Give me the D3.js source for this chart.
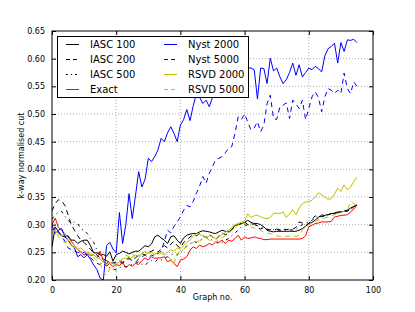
<!DOCTYPE html>
<html>
<head>
<meta charset="utf-8">
<script src="https://cdn.jsdelivr.net/npm/d3@7"></script>
<style>
  body { margin: 0; background: #fff; }
  text { font-family: "DejaVu Sans", sans-serif; }
</style>
</head>
<body>
<div id="chart"></div>
<script>
// graph numbers on the x axis
const graphNo = d3.range(0, 96);

const xTicks = [0, 20, 40, 60, 80, 100];
const yTicks = [0.20, 0.25, 0.30, 0.35, 0.40, 0.45, 0.50, 0.55, 0.60, 0.65];

// values
const iasc100 = [0.260,0.296,0.288,0.280,0.278,0.280,0.272,0.272,0.266,0.270,
  0.272,0.272,0.262,0.249,0.249,0.245,0.246,0.243,0.251,0.234,
  0.246,0.248,0.252,0.250,0.247,0.250,0.252,0.252,0.257,0.262,
  0.260,0.265,0.278,0.281,0.276,0.272,0.266,0.278,0.280,0.272,
  0.266,0.276,0.281,0.283,0.284,0.284,0.287,0.289,0.288,0.287,
  0.285,0.284,0.287,0.290,0.288,0.287,0.290,0.299,0.300,0.302,
  0.304,0.308,0.304,0.302,0.302,0.300,0.296,0.290,0.288,0.287,
  0.288,0.288,0.288,0.288,0.288,0.288,0.288,0.290,0.293,0.297,
  0.302,0.304,0.308,0.314,0.315,0.317,0.318,0.320,0.321,0.323,
  0.323,0.324,0.326,0.330,0.333,0.335];

const iasc200 = [0.325,0.338,0.345,0.343,0.335,0.318,0.300,0.290,0.280,0.272,
  0.268,0.262,0.255,0.250,0.245,0.240,0.238,0.235,0.232,0.230,
  0.233,0.235,0.232,0.238,0.240,0.236,0.240,0.245,0.248,0.245,
  0.250,0.252,0.255,0.250,0.256,0.262,0.258,0.265,0.270,0.262,
  0.258,0.268,0.272,0.278,0.282,0.280,0.284,0.280,0.276,0.282,
  0.278,0.272,0.280,0.285,0.282,0.284,0.292,0.296,0.300,0.302,
  0.305,0.300,0.298,0.302,0.295,0.292,0.295,0.290,0.291,0.290,
  0.292,0.291,0.292,0.291,0.292,0.292,0.295,0.305,0.303,0.300,
  0.302,0.310,0.316,0.312,0.318,0.316,0.318,0.320,0.322,0.321,
  0.324,0.325,0.324,0.328,0.332,0.337];

const iasc500 = [0.310,0.318,0.322,0.324,0.315,0.308,0.302,0.305,0.302,0.292,
  0.290,0.284,0.275,0.268,0.254,0.245,0.235,0.224,0.222,0.220,
  0.218,0.222,0.225,0.224,0.226,0.228,0.230,0.233,0.228,0.226,
  0.233,0.235,0.232,0.238,0.236,0.240,0.242,0.245,0.248,0.245,
  0.250,0.255,0.262,0.265,0.270,0.268,0.272,0.275,0.278,0.274,
  0.272,0.270,0.265,0.268,0.272,0.275,0.280,0.285,0.290,0.296,
  0.300,0.298,0.302,0.300,0.298,0.296,0.292,0.292,0.290,0.291,
  0.290,0.290,0.291,0.290,0.291,0.290,0.292,0.296,0.300,0.303,
  0.305,0.308,0.312,0.310,0.314,0.316,0.318,0.319,0.320,0.322,
  0.323,0.325,0.326,0.328,0.331,0.336];

const exact = [0.300,0.312,0.295,0.290,0.282,0.278,0.270,0.262,0.255,0.250,
  0.245,0.248,0.244,0.246,0.240,0.252,0.235,0.225,0.230,0.224,
  0.228,0.226,0.232,0.222,0.228,0.225,0.230,0.228,0.235,0.240,
  0.236,0.242,0.239,0.240,0.240,0.242,0.233,0.236,0.230,0.224,
  0.236,0.238,0.242,0.254,0.260,0.257,0.263,0.260,0.262,0.266,
  0.263,0.269,0.268,0.272,0.266,0.272,0.270,0.275,0.281,0.272,
  0.278,0.275,0.276,0.278,0.276,0.275,0.273,0.273,0.274,0.274,
  0.274,0.274,0.274,0.274,0.274,0.274,0.274,0.274,0.275,0.280,
  0.296,0.299,0.302,0.303,0.305,0.305,0.305,0.306,0.314,0.315,
  0.317,0.317,0.318,0.323,0.328,0.335];

const nyst2000 = [0.299,0.284,0.290,0.293,0.278,0.272,0.263,0.258,0.242,0.246,
  0.240,0.246,0.237,0.227,0.219,0.203,0.200,0.262,0.268,0.256,
  0.249,0.322,0.266,0.300,0.356,0.311,0.352,0.396,0.368,0.382,
  0.420,0.414,0.423,0.435,0.456,0.450,0.466,0.477,0.465,0.450,
  0.480,0.490,0.508,0.488,0.515,0.537,0.530,0.519,0.525,0.513,
  0.530,0.545,0.540,0.552,0.548,0.556,0.550,0.560,0.552,0.548,
  0.561,0.583,0.583,0.580,0.527,0.583,0.582,0.555,0.601,0.578,
  0.583,0.567,0.555,0.562,0.575,0.592,0.570,0.589,0.567,0.575,
  0.583,0.580,0.586,0.582,0.576,0.605,0.618,0.622,0.628,0.592,
  0.629,0.613,0.634,0.633,0.635,0.629];

const nyst5000 = [0.290,0.295,0.285,0.280,0.270,0.258,0.255,0.252,0.250,0.248,
  0.250,0.245,0.240,0.235,0.230,0.228,0.232,0.230,0.235,0.232,
  0.228,0.232,0.230,0.236,0.238,0.235,0.232,0.238,0.242,0.245,
  0.240,0.245,0.243,0.248,0.252,0.270,0.290,0.285,0.297,0.305,
  0.314,0.326,0.335,0.332,0.342,0.357,0.370,0.387,0.375,0.393,
  0.405,0.417,0.420,0.423,0.430,0.438,0.441,0.465,0.495,0.490,
  0.500,0.485,0.471,0.475,0.486,0.468,0.480,0.519,0.534,0.492,
  0.490,0.513,0.516,0.520,0.492,0.525,0.518,0.510,0.525,0.490,
  0.510,0.531,0.540,0.530,0.504,0.531,0.546,0.543,0.537,0.543,
  0.537,0.574,0.546,0.537,0.558,0.550];

const rsvd2000 = [0.292,0.288,0.283,0.280,0.285,0.272,0.268,0.262,0.255,0.258,
  0.252,0.250,0.248,0.245,0.240,0.238,0.232,0.228,0.232,0.230,
  0.228,0.233,0.238,0.240,0.236,0.242,0.245,0.243,0.248,0.252,
  0.248,0.250,0.246,0.250,0.248,0.245,0.250,0.255,0.252,0.258,
  0.256,0.262,0.268,0.272,0.280,0.284,0.282,0.280,0.276,0.280,
  0.278,0.275,0.278,0.282,0.286,0.290,0.295,0.300,0.302,0.305,
  0.306,0.320,0.313,0.316,0.317,0.314,0.312,0.311,0.313,0.320,
  0.321,0.320,0.323,0.313,0.320,0.327,0.318,0.330,0.338,0.341,
  0.342,0.344,0.350,0.358,0.354,0.350,0.346,0.347,0.355,0.366,
  0.360,0.372,0.363,0.368,0.378,0.386];

const rsvd5000 = [0.285,0.290,0.278,0.272,0.268,0.270,0.262,0.258,0.255,0.252,
  0.250,0.248,0.246,0.240,0.236,0.230,0.215,0.208,0.220,0.228,
  0.225,0.230,0.240,0.245,0.242,0.248,0.238,0.240,0.246,0.244,
  0.250,0.248,0.246,0.250,0.252,0.248,0.242,0.238,0.230,0.248,
  0.252,0.256,0.260,0.265,0.268,0.272,0.270,0.274,0.276,0.272,
  0.270,0.268,0.274,0.276,0.280,0.285,0.290,0.295,0.300,0.304,
  0.303,0.298,0.296,0.294,0.292,0.290,0.286,0.285,0.284,0.282,
  0.280,0.279,0.279,0.279,0.279,0.279,0.279,0.280,0.290,0.296,
  0.300,0.303,0.306,0.308,0.310,0.312,0.314,0.316,0.318,0.320,
  0.322,0.324,0.326,0.342,0.338,0.334];

const series = [
  { name: "IASC 100",  values: iasc100,  color: "#000000", dash: null },
  { name: "IASC 200",  values: iasc200,  color: "#000000", dash: "5,4" },
  { name: "IASC 500",  values: iasc500,  color: "#000000", dash: "3,4,1,4" },
  { name: "Exact",     values: exact,    color: "#ff0000", dash: null },
  { name: "Nyst 2000", values: nyst2000, color: "#0000ff", dash: null },
  { name: "Nyst 5000", values: nyst5000, color: "#0000ff", dash: "5,4" },
  { name: "RSVD 2000", values: rsvd2000, color: "#bfbf00", dash: null },
  { name: "RSVD 5000", values: rsvd5000, color: "#bfbf00", dash: "5,4" }
];

const W = 415, H = 312;
const margin = { top: 31, right: 42, bottom: 32, left: 52 };
const width = W - margin.left - margin.right;
const height = H - margin.top - margin.bottom;

const svg = d3.select("#chart").append("svg")
  .attr("width", W)
  .attr("height", H);

svg.append("rect").attr("width", W).attr("height", H).attr("fill", "#fff");

const g = svg.append("g")
  .attr("transform", `translate(${margin.left},${margin.top})`);

const x = d3.scaleLinear().domain([0, 100]).range([0, width]);
const y = d3.scaleLinear().domain([0.20, 0.65]).range([height, 0]);

// grade pontilhada
g.append("g")
  .selectAll("line")
  .data(xTicks.slice(1, -1))
  .join("line")
  .attr("x1", d => x(d)).attr("x2", d => x(d))
  .attr("y1", 0).attr("y2", height)
  .attr("stroke", "#777").attr("stroke-width", 0.6)
  .attr("stroke-dasharray", "1,2");

g.append("g")
  .selectAll("line")
  .data(yTicks.slice(1, -1))
  .join("line")
  .attr("x1", 0).attr("x2", width)
  .attr("y1", d => y(d)).attr("y2", d => y(d))
  .attr("stroke", "#777").attr("stroke-width", 0.6)
  .attr("stroke-dasharray", "1,2");

g.append("clipPath").attr("id", "clip")
  .append("rect").attr("width", width).attr("height", height);

const line = d3.line()
  .x((d, i) => x(graphNo[i]))
  .y(d => y(d));

g.append("g")
  .attr("clip-path", "url(#clip)")
  .selectAll("path")
  .data(series)
  .join("path")
  .attr("d", d => line(d.values))
  .attr("fill", "none")
  .attr("stroke", d => d.color)
  .attr("stroke-width", 1)
  .attr("stroke-dasharray", d => d.dash);

// eixos com marcas para dentro
const axisStyle = sel => {
  sel.select(".domain").remove();
  sel.selectAll("text").attr("font-family", "DejaVu Sans").attr("font-size", 8).attr("fill", "#000");
  sel.selectAll("line").attr("stroke", "#000");
};

g.append("g")
  .attr("transform", `translate(0,${height})`)
  .call(d3.axisBottom(x).tickValues(xTicks).tickFormat(d3.format("d")).tickSizeInner(-4).tickPadding(7))
  .call(axisStyle);

g.append("g")
  .call(d3.axisTop(x).tickValues(xTicks).tickFormat("").tickSizeInner(-4))
  .call(axisStyle);

g.append("g")
  .call(d3.axisLeft(y).tickValues(yTicks).tickFormat(d3.format(".2f")).tickSizeInner(-4).tickPadding(7))
  .call(axisStyle);

g.append("g")
  .attr("transform", `translate(${width},0)`)
  .call(d3.axisRight(y).tickValues(yTicks).tickFormat("").tickSizeInner(-4))
  .call(axisStyle);

g.append("rect")
  .attr("width", width).attr("height", height)
  .attr("fill", "none").attr("stroke", "#000").attr("stroke-width", 1);

// rótulos
svg.append("text")
  .attr("x", margin.left + width / 2)
  .attr("y", 300)
  .attr("text-anchor", "middle")
  .attr("font-size", 8)
  .text("Graph no.");

svg.append("text")
  .attr("transform", `translate(24,${margin.top + height / 2}) rotate(-90)`)
  .attr("text-anchor", "middle")
  .attr("font-size", 8)
  .text("k-way normalised cut");

// legenda
const legend = svg.append("g");
legend.append("rect")
  .attr("x", 57.5).attr("y", 36.5)
  .attr("width", 191).attr("height", 61)
  .attr("fill", "#fff").attr("stroke", "#000").attr("stroke-width", 1);

const item = legend.selectAll("g.item")
  .data(series)
  .join("g")
  .attr("class", "item")
  .attr("transform", (d, i) => `translate(${i < 4 ? 66 : 164},${44.5 + (i % 4) * 15})`);

item.append("line")
  .attr("x1", 0).attr("x2", 13)
  .attr("stroke", d => d.color)
  .attr("stroke-width", 1)
  .attr("stroke-dasharray", d => d.dash ? (d.dash === "5,4" ? "4,3" : "2,3,1,3") : null);

item.append("text")
  .attr("x", 24).attr("y", 3.6)
  .attr("font-size", 10)
  .text(d => d.name);
</script>
</body>
</html>
